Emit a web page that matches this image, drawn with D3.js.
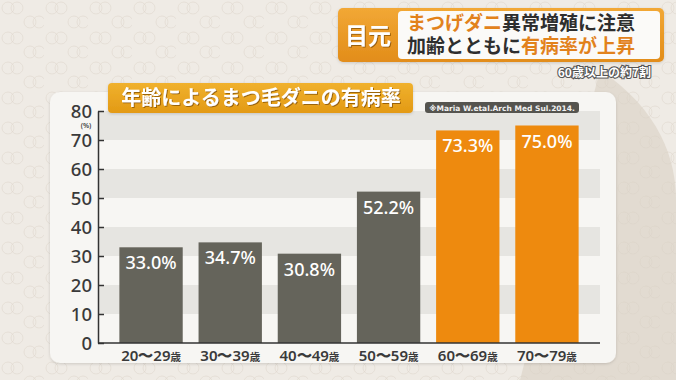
<!DOCTYPE html>
<html><head><meta charset="utf-8">
<script src="https://cdn.jsdelivr.net/npm/d3@7"></script>
<style>html,body{margin:0;padding:0;background:#ece7e0;}svg{display:block;}</style>
</head><body>
<svg id="c" width="676" height="380"></svg>
<script>
const categories = ["20〜29","30〜39","40〜49","50〜59","60〜69","70〜79"];
const categorySuffix = "歳";
const values = [33.0, 34.7, 30.8, 52.2, 73.3, 75.0];
const highlight = [false, false, false, false, true, true];
const yTicks = [0,10,20,30,40,50,60,70,80];
const stripes = [[10,20],[30,40],[50,60],[70,80]];
const chartTitle = "年齢によるまつ毛ダニの有病率";
const sourceNote = "※Maria W.etal.Arch Med Sul.2014.";
const headerTag = "目元";
const headerLine1 = [["まつげダニ", true], ["異常増殖に注意", false]];
const headerLine2 = [["加齢とともに", false], ["有病率が上昇", true]];
const subNote = "60歳以上の約7割";

const svg = d3.select("#c");
const W = 676, H = 380;
const CJK = "'Noto Sans CJK JP','Noto Sans',sans-serif";
const NUM = "'Noto Sans','Roboto',sans-serif";

const defs = svg.append("defs");
const pat = defs.append("pattern").attr("id","bgp").attr("patternUnits","userSpaceOnUse")
  .attr("width",44).attr("height",30);
[[8,8],[17,8],[30,22],[39,22]].forEach(([cx,cy])=>{
  pat.append("circle").attr("cx",cx).attr("cy",cy).attr("r",6).attr("fill","none")
    .attr("stroke","#d9d1c6").attr("stroke-opacity",0.45).attr("stroke-width",1);
});
const gTitle = defs.append("linearGradient").attr("id","gt").attr("x1",0).attr("y1",0).attr("x2",0).attr("y2",1);
gTitle.append("stop").attr("offset","0%").attr("stop-color","#f0b12e");
gTitle.append("stop").attr("offset","100%").attr("stop-color","#e39a14");
const gHead = defs.append("linearGradient").attr("id","gh").attr("x1",0).attr("y1",0).attr("x2",0).attr("y2",1);
gHead.append("stop").attr("offset","0%").attr("stop-color","#f2a835");
gHead.append("stop").attr("offset","100%").attr("stop-color","#e28d1a");
const sh = defs.append("filter").attr("id","ts").attr("x","-10%").attr("y","-30%").attr("width","120%").attr("height","160%");
sh.append("feDropShadow").attr("dx",1).attr("dy",1).attr("stdDeviation",0.6).attr("flood-color","#7a4a00").attr("flood-opacity",0.7);
const psh = defs.append("filter").attr("id","ps").attr("x","-5%").attr("y","-5%").attr("width","110%").attr("height","115%");
psh.append("feDropShadow").attr("dx",0).attr("dy",1).attr("stdDeviation",1.5).attr("flood-color","#000").attr("flood-opacity",0.15);

// background
svg.append("rect").attr("width",W).attr("height",H).attr("fill","#efebe5");
svg.append("path").attr("d","M600,70 C660,110 676,160 676,200 L676,380 L520,380 Z").attr("fill","#e2dbd1");
svg.append("rect").attr("width",W).attr("height",H).attr("fill","url(#bgp)");

// panel
svg.append("rect").attr("x",50).attr("y",92).attr("width",566).attr("height",271).attr("rx",10)
  .attr("fill","#f7f6f3").attr("filter","url(#ps)");

// scales
const x = d3.scaleBand().domain(categories).range([98,600]).paddingInner(0.2).paddingOuter(0.27);
const y = d3.scaleLinear().domain([0,80]).range([343,111]);

// stripes
svg.append("g").selectAll("rect").data(stripes).join("rect")
  .attr("x",98).attr("width",600-98)
  .attr("y",d=>y(d[1])).attr("height",d=>y(d[0])-y(d[1]))
  .attr("fill","#e6e5e1");

// bars
svg.append("g").selectAll("rect").data(values).join("rect")
  .attr("x",(d,i)=>x(categories[i])).attr("width",x.bandwidth())
  .attr("y",d=>y(d)).attr("height",d=>y(0)-y(d))
  .attr("fill",(d,i)=>highlight[i]?"#ee8a0e":"#65645b");

// value labels
svg.append("g").selectAll("text").data(values).join("text")
  .attr("x",(d,i)=>x(categories[i])+x.bandwidth()/2)
  .attr("y",d=>y(d)+22)
  .attr("text-anchor","middle").attr("fill","#fff")
  .attr("font-family",NUM).attr("font-size",18).attr("font-weight",500)
  .text(d=>d.toFixed(1)+"%");

// y axis
const yAxis = d3.axisLeft(y).tickValues(yTicks).tickSize(-6).tickPadding(12).tickSizeOuter(0);
const ga = svg.append("g").attr("transform","translate(98,0)").call(yAxis);
ga.select(".domain").attr("stroke","#333").attr("stroke-width",1.5);
ga.selectAll(".tick line").attr("stroke","#333").attr("stroke-width",1.5);
ga.selectAll(".tick text").attr("fill","#3a3a3a").attr("font-family",NUM)
  .attr("font-size",18.5).attr("font-weight",500).attr("dx",6).attr("dy","0.36em");
svg.append("text").attr("x",86).attr("y",128).attr("text-anchor","middle")
  .attr("font-family",NUM).attr("font-size",7).attr("font-weight",600).attr("fill","#444").text("(%)");

// x axis
const xAxis = d3.axisBottom(x).tickSize(0).tickPadding(8);
const gx = svg.append("g").attr("transform","translate(0,343)").call(xAxis);
gx.select(".domain").attr("d","M98,0H600").attr("stroke","#333").attr("stroke-width",1.5);
gx.selectAll(".tick text").text(null).attr("fill","#3a3a3a").attr("font-family",NUM)
  .attr("font-weight",600).attr("dy","1.0em")
  .each(function(d){
    const t = d3.select(this);
    t.append("tspan").attr("font-size",15).text(d);
    t.append("tspan").attr("font-size",10.5).attr("font-family",CJK).attr("font-weight",700).text(categorySuffix);
  });

// chart title box
svg.append("rect").attr("x",108).attr("y",83).attr("width",305).attr("height",30).attr("rx",4)
  .attr("fill","url(#gt)").attr("filter","url(#ps)");
svg.append("text").attr("x",261).attr("y",105).attr("text-anchor","middle")
  .attr("font-family",CJK).attr("font-size",20).attr("font-weight",700).attr("fill","#fff")
  .attr("filter","url(#ts)").text(chartTitle);

// source note
svg.append("rect").attr("x",425).attr("y",102).attr("width",154).attr("height",11).attr("rx",3).attr("fill","#55544f");
svg.append("text").attr("x",502).attr("y",110.5).attr("text-anchor","middle")
  .attr("font-family","'DejaVu Sans',sans-serif").attr("font-size",7.5).attr("font-weight",700).attr("fill","#f2f2f2")
  .text(sourceNote);

// header
svg.append("rect").attr("x",338).attr("y",8).attr("width",326).attr("height",54).attr("rx",5)
  .attr("fill","url(#gh)").attr("filter","url(#ps)");
svg.append("rect").attr("x",398).attr("y",11).attr("width",262).attr("height",48).attr("rx",4).attr("fill","#fbfaf8");
svg.append("text").attr("x",368).attr("y",44).attr("text-anchor","middle")
  .attr("font-family",CJK).attr("font-size",23).attr("font-weight",700).attr("fill","#fff")
  .attr("filter","url(#ts)").text(headerTag);
function headLine(parts, yy){
  const t = svg.append("text").attr("x",407).attr("y",yy)
    .attr("font-family",CJK).attr("font-size",19).attr("font-weight",700);
  parts.forEach(([s,hl])=>t.append("tspan").attr("fill",hl?"#e2821c":"#2e2e2e").text(s));
}
headLine(headerLine1, 30);
headLine(headerLine2, 53);
svg.append("text").attr("x",651).attr("y",77).attr("text-anchor","end")
  .attr("font-family",CJK).attr("font-size",12).attr("font-weight",700).attr("fill","#fff")
  .attr("stroke","#555").attr("stroke-width",2.2).attr("paint-order","stroke").text(subNote);
</script>
</body></html>
